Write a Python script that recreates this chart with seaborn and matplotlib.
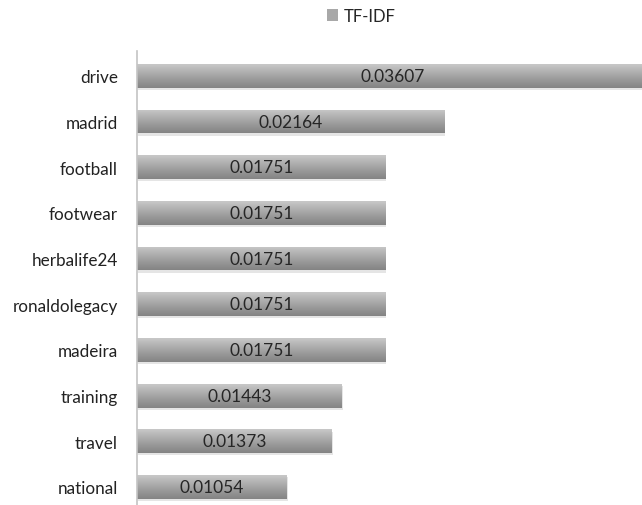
import numpy as np
import pandas as pd
import matplotlib
matplotlib.use("Agg")
import matplotlib.pyplot as plt
import seaborn as sns
from matplotlib.colors import LinearSegmentedColormap
from matplotlib.patches import Rectangle

# Top terms and their TF-IDF weights
terms = ["drive", "madrid", "football", "footwear", "herbalife24",
         "ronaldolegacy", "madeira", "training", "travel", "national"]
tfidf = [0.03607, 0.02164, 0.01751, 0.01751, 0.01751,
         0.01751, 0.01751, 0.01443, 0.01373, 0.01054]
series_name = "TF-IDF"

sns.set_style("white")
plt.rcParams["font.family"] = ["Lato", "DejaVu Sans"]

W, H = 642, 506
fig = plt.figure(figsize=(W / 100, H / 100), dpi=100)
ax = fig.add_axes([137 / W, 0, 1 - 137 / W, 454 / H])

df = pd.DataFrame({"term": terms, series_name: tfidf})
sns.barplot(data=df, y="term", x=series_name, orient="h", color="#a8a8a8",
            width=0.52, ax=ax, label=series_name, legend=False)

# Excel-style vertical gradient on each bar, with a soft drop shadow
grad_cmap = LinearSegmentedColormap.from_list(
    "bar_grad", ["#c8c8c8", "#b0b0b0", "#989898", "#848484"])
grad = np.linspace(0, 1, 64).reshape(-1, 1)
for patch in list(ax.patches):
    x0, y0 = patch.get_x(), patch.get_y()
    w, h = patch.get_width(), patch.get_height()
    shadow = Rectangle((x0 + 0.00006, y0 + 0.05), w, h, facecolor="#000000",
                       alpha=0.10, edgecolor="none", zorder=patch.get_zorder() - 0.5)
    ax.add_patch(shadow)
    im = ax.imshow(grad, cmap=grad_cmap, aspect="auto", origin="upper",
                   extent=(x0, x0 + w, y0 + h, y0),
                   zorder=patch.get_zorder() + 0.1, interpolation="bilinear")
    im.set_clip_path(patch)
    patch.set_edgecolor("none")

# Value labels centred on each bar
for i, v in enumerate(tfidf):
    ax.text(v / 2, i, f"{v:.5f}", ha="center", va="center",
            fontsize=12.5, color="#262626", zorder=5)

ax.set_xlim(0, 505 / 14200)
ax.set_ylim(9 + 18 / 45.67, -0.5 - 2 / 45.67)
ax.set_xlabel("")
ax.set_ylabel("")
ax.set_xticks([])
ax.tick_params(axis="y", length=0, pad=13.7, labelsize=12.3, labelcolor="#222222")
for s in ["top", "right", "bottom"]:
    ax.spines[s].set_visible(False)
ax.spines["left"].set_color("#c4c4c4")
ax.spines["left"].set_linewidth(1.2)

# Legend above the plot
handle = Rectangle((0, 0), 1, 1, facecolor="#a8a8a8", edgecolor="none")
fig.legend([handle], [series_name], loc="center", bbox_to_anchor=(361 / W, 1 - 17 / H),
           frameon=False, handlelength=0.7, handleheight=0.7, handletextpad=0.3,
           fontsize=12, labelcolor="#262626")

fig.savefig("out.png", dpi=100)
